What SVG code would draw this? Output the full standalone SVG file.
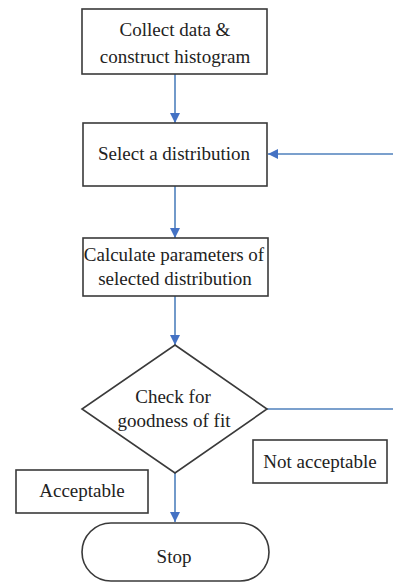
<svg xmlns="http://www.w3.org/2000/svg" width="393" height="582" viewBox="0 0 393 582">
<style>
.box{fill:#fff;stroke:#3a3a3a;stroke-width:1.6}
.t{font-family:'Liberation Serif','Times New Roman','DejaVu Serif',serif;font-size:19px;fill:#222;text-anchor:middle}
.c{stroke:#4f81bd;stroke-width:1.6;fill:none}
</style>
<defs>
<marker id="ah" viewBox="0 0 10 10" refX="10" refY="5" markerWidth="10" markerHeight="10" markerUnits="userSpaceOnUse" orient="auto">
<path d="M0,0 L10,5 L0,10 Z" fill="#4472c4"/>
</marker>
</defs>
<rect width="393" height="582" fill="#fff"/>
<g id="connectors">
<line class="c" x1="175" y1="74" x2="175" y2="123" marker-end="url(#ah)"/>
<line class="c" x1="175" y1="186" x2="175" y2="238" marker-end="url(#ah)"/>
<line class="c" x1="175" y1="296" x2="175" y2="345" marker-end="url(#ah)"/>
<line class="c" x1="175" y1="473" x2="175" y2="522" marker-end="url(#ah)"/>
<line class="c" x1="393" y1="154" x2="268" y2="154" marker-end="url(#ah)"/>
<line class="c" x1="267" y1="409" x2="393" y2="409"/>
</g>
<g id="collect">
<rect class="box" x="82" y="9" width="185" height="65"/>
<text class="t" x="175" y="36" font-family="Liberation Serif, serif">Collect data &amp;</text>
<text class="t" x="175" y="63" font-family="Liberation Serif, serif">construct histogram</text>
</g>
<g id="select">
<rect class="box" x="83" y="123" width="184" height="63"/>
<text class="t" x="174" y="160">Select a distribution</text>
</g>
<g id="calculate">
<rect class="box" x="83" y="238" width="185" height="58"/>
<text class="t" x="174" y="261">Calculate parameters of</text>
<text class="t" x="175" y="285">selected distribution</text>
</g>
<g id="check">
<polygon class="box" points="175,345 267,409 175,473 82,409"/>
<text class="t" x="173" y="403">Check for</text>
<text class="t" x="174" y="427">goodness of fit</text>
</g>
<g id="notacceptable">
<rect class="box" x="253" y="440" width="134" height="43"/>
<text class="t" x="320" y="468">Not acceptable</text>
</g>
<g id="acceptable">
<rect class="box" x="16" y="470" width="132" height="43"/>
<text class="t" x="82" y="497">Acceptable</text>
</g>
<g id="stop">
<rect class="box" x="82" y="523" width="187" height="58" rx="29" ry="29"/>
<text class="t" x="174" y="563">Stop</text>
</g>
</svg>
